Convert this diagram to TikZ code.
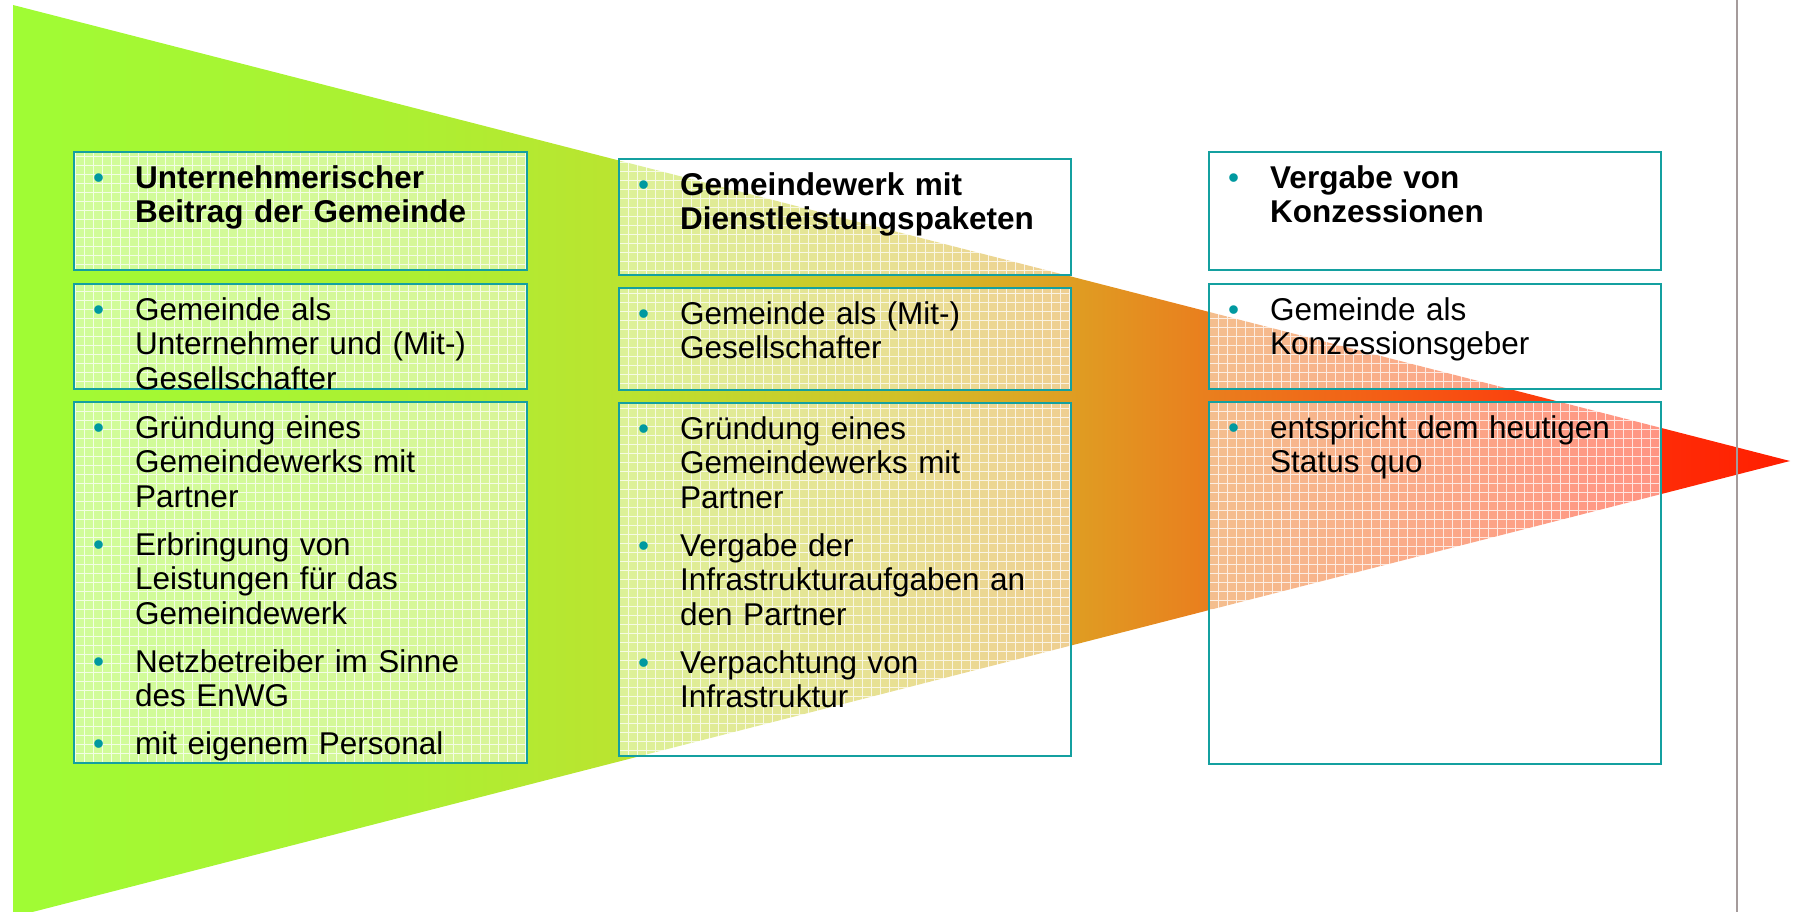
\documentclass[tikz,border=0pt]{standalone}
\usepackage{fontspec}
\setmainfont{Liberation Sans}
\definecolor{c0}{RGB}{160,252,52}
\definecolor{c1}{RGB}{172,240,50}
\definecolor{c2}{RGB}{186,228,48}
\definecolor{c3}{RGB}{210,192,40}
\definecolor{c4}{RGB}{222,160,35}
\definecolor{c5}{RGB}{233,128,30}
\definecolor{c6}{RGB}{245,90,20}
\definecolor{c7}{RGB}{255,50,10}
\definecolor{c8}{RGB}{255,30,0}
\definecolor{boxline}{RGB}{20,160,160}
\definecolor{bul}{RGB}{0,153,160}
\definecolor{sepline}{RGB}{165,155,155}
\pgfdeclarehorizontalshading{funnel}{100bp}{color(0bp)=(c0); color(25bp)=(c0); color(35.89bp)=(c1); color(42.08bp)=(c2); color(49.96bp)=(c3); color(54.46bp)=(c4); color(58.4bp)=(c5); color(64.03bp)=(c6); color(69.65bp)=(c7); color(75bp)=(c8); color(100bp)=(c8)}
\newcommand\bpar[1]{\par\noindent\hangindent=42pt\hangafter=1\makebox[42pt][l]{\rule{0pt}{26pt}\textcolor{bul}{•}}#1\par}
\tikzset{
  boxst/.style={draw=boxline, line width=1.6pt, fill=white, fill opacity=0.5, text opacity=1,
    anchor=north west, inner sep=0pt, minimum width=#1,
    path picture={\draw[white, line width=0.8pt, draw opacity=0.75] (path picture bounding box.south west) grid[step=9pt] (path picture bounding box.north east);}},
  txtst/.style={anchor=north west, inner sep=0pt, text width=425pt,
    font=\fontsize{31.5}{34.5}\selectfont, execute at begin node={\raggedright\setlength{\parskip}{13.5pt}}}
}
\begin{document}
\begin{tikzpicture}[x=1pt,y=-1pt]
\useasboundingbox (0,0) rectangle (1793,912);
% funnel
\shade[shading=funnel] (13,5) -- (1790,461) -- (13,917) -- cycle;
% separator line
\draw[sepline, line width=2.5pt] (1737,0) -- (1737,912);
% column 1
\node[boxst=453pt, minimum height=118pt] (b11) at (73,151) {};
\node[boxst=453pt, minimum height=105pt] (b12) at (73,283) {};
\node[boxst=453pt, minimum height=361pt] (b13) at (73,401) {};
% column 2
\node[boxst=452pt, minimum height=116pt] (b21) at (618,158) {};
\node[boxst=452pt, minimum height=102pt] (b22) at (618,287) {};
\node[boxst=452pt, minimum height=353pt] (b23) at (618,402) {};
% column 3
\node[boxst=452pt, minimum height=118pt] (b31) at (1208,151) {};
\node[boxst=452pt, minimum height=105pt] (b32) at (1208,283) {};
\node[boxst=452pt, minimum height=362pt] (b33) at (1208,401) {};
% texts column 1
\node[txtst] (t11) at ([shift={(20pt,11pt)}]b11.north west) {\bpar{\textbf{Unternehmerischer\newline Beitrag der Gemeinde}}};
\node[txtst] (t12) at ([shift={(20pt,11pt)}]b12.north west) {\bpar{Gemeinde als\newline Unternehmer und (Mit-)\newline Gesellschafter}};
\node[txtst] (t13) at ([shift={(20pt,11pt)}]b13.north west) {\bpar{Gründung eines\newline Gemeindewerks mit\newline Partner}\bpar{Erbringung von\newline Leistungen für das\newline Gemeindewerk}\bpar{Netzbetreiber im Sinne\newline des EnWG}\bpar{mit eigenem Personal}};
% texts column 2
\node[txtst] (t21) at ([shift={(20pt,11pt)}]b21.north west) {\bpar{\textbf{Gemeindewerk mit\newline Dienstleistungspaketen}}};
\node[txtst] (t22) at ([shift={(20pt,11pt)}]b22.north west) {\bpar{Gemeinde als (Mit-)\newline Gesellschafter}};
\node[txtst] (t23) at ([shift={(20pt,11pt)}]b23.north west) {\bpar{Gründung eines\newline Gemeindewerks mit\newline Partner}\bpar{Vergabe der\newline Infrastrukturaufgaben an\newline den Partner}\bpar{Verpachtung von\newline Infrastruktur}};
% texts column 3
\node[txtst] (t31) at ([shift={(20pt,11pt)}]b31.north west) {\bpar{\textbf{Vergabe von\newline Konzessionen}}};
\node[txtst] (t32) at ([shift={(20pt,11pt)}]b32.north west) {\bpar{Gemeinde als\newline Konzessionsgeber}};
\node[txtst] (t33) at ([shift={(20pt,11pt)}]b33.north west) {\bpar{entspricht dem heutigen\newline Status quo}};
\end{tikzpicture}
\end{document}
